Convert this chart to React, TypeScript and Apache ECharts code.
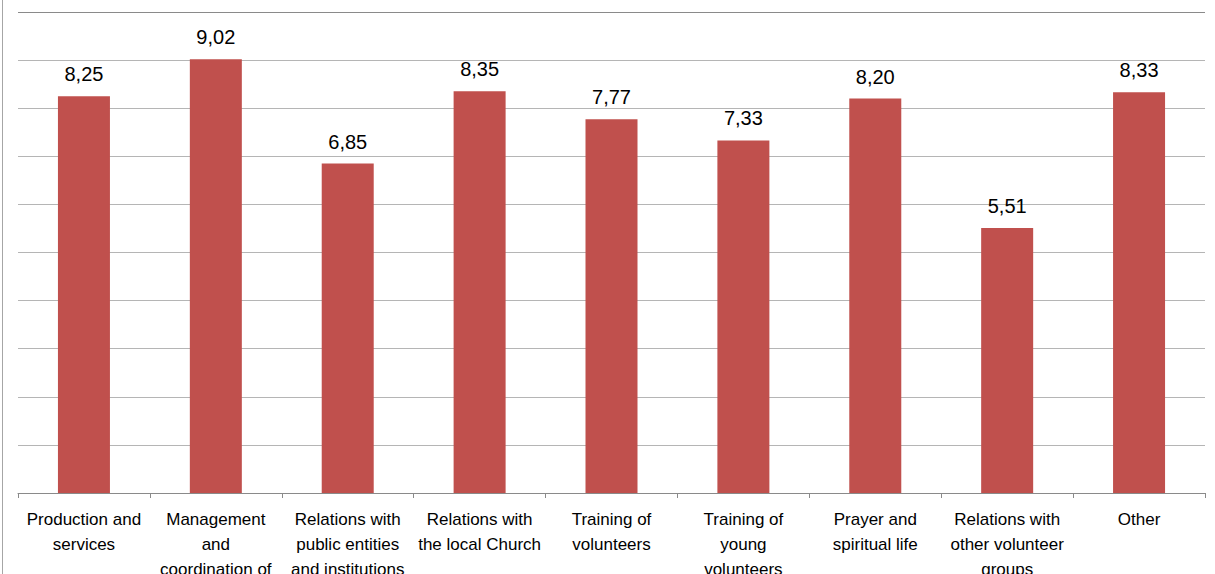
import React, { useEffect, useRef } from "react";
import * as echarts from "echarts";

const categories = [
  "Production and\nservices",
  "Management\nand\ncoordination of",
  "Relations with\npublic entities\nand institutions",
  "Relations with\nthe local Church",
  "Training of\nvolunteers",
  "Training of\nyoung\nvolunteers",
  "Prayer and\nspiritual life",
  "Relations with\nother volunteer\ngroups",
  "Other",
];
const values = [8.25, 9.02, 6.85, 8.35, 7.77, 7.33, 8.2, 5.51, 8.33];
const yMin = 0;
const yMax = 10;
const yInterval = 1;

export default function App() {
  const ref = useRef<HTMLDivElement>(null);
  useEffect(() => {
    if (!ref.current) return;
    const chart = echarts.init(ref.current, null, { renderer: "svg" });
    const gridColors = Array.from({ length: 11 }, (_, i) => (i === 10 ? "#8a8a8a" : "#b5b5b5"));
    chart.setOption({
      animation: false,
      textStyle: { fontFamily: "Liberation Sans, Arial, sans-serif" },
      grid: { left: 18, right: 10, top: 12, bottom: 81, containLabel: false, outerBoundsMode: "none" },
      xAxis: {
        type: "category",
        data: categories,
        axisLine: { lineStyle: { color: "#8a8a8a", width: 1 } },
        axisTick: { show: true, length: 5, lineStyle: { color: "#8a8a8a" } },
        axisLabel: {
          interval: 0,
          color: "#000",
          fontSize: 17,
          lineHeight: 25,
          margin: 14,
          fontFamily: "Liberation Sans, Arial, sans-serif",
        },
      },
      yAxis: {
        type: "value",
        min: yMin,
        max: yMax,
        interval: yInterval,
        axisLine: { show: false },
        axisTick: { show: false },
        axisLabel: { show: false },
        splitLine: { show: true, lineStyle: { color: gridColors, width: 1 } },
      },
      series: [
        {
          type: "bar",
          data: values,
          barWidth: 52,
          itemStyle: { color: "#C0504D" },
          label: {
            show: true,
            position: "top",
            distance: 12,
            color: "#000",
            fontSize: 20,
            fontFamily: "Liberation Sans, Arial, sans-serif",
            formatter: (p: any) => p.value.toFixed(2).replace(".", ","),
          },
        },
      ],
      graphic: [
        {
          type: "line",
          shape: { x1: 2.5, y1: 0, x2: 2.5, y2: 574 },
          style: { stroke: "#a6a6a6", lineWidth: 1 },
        },
      ],
    });
    return () => chart.dispose();
  }, []);
  return (
    <div
      ref={ref}
      style={{ position: "fixed", left: 0, top: 0, width: 1215, height: 574, background: "#fff" }}
    />
  );
}
